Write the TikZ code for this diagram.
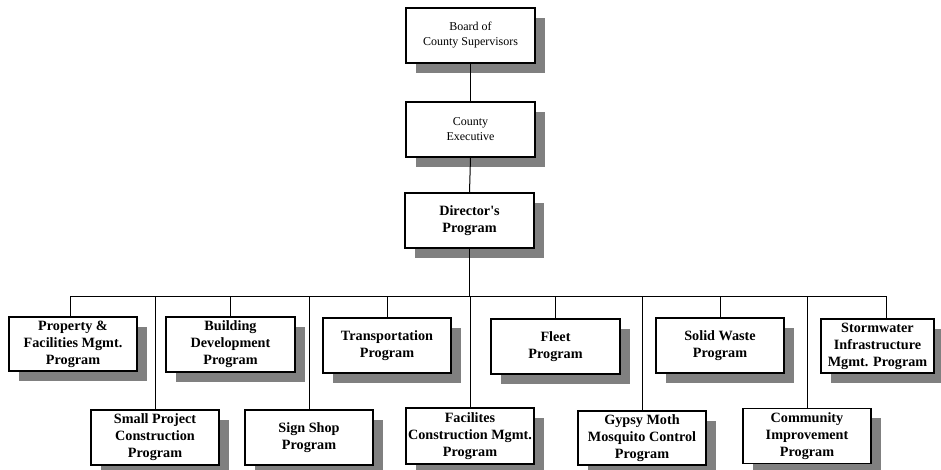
\documentclass[tikz,border=0pt]{standalone}
\usepackage{fontspec}
\setmainfont{Liberation Serif}
\usetikzlibrary{shadows}
\begin{document}
\begin{tikzpicture}[x=1pt,y=-1pt,
  unitbox/.style={draw=black, line width=1.2pt, fill=white, rectangle, inner sep=0pt,
    align=center, general shadow={fill=black!50, shadow xshift=9.5pt, shadow yshift=-9.5pt}},
  topbox/.style={unitbox, minimum width=129pt, minimum height=55pt, font=\fontsize{12}{15}\selectfont},
  progbox/.style={unitbox, minimum width=128pt, minimum height=55pt, font=\fontsize{14.2}{17}\selectfont\bfseries},
  link/.style={draw=black, line width=1pt}]
\useasboundingbox (0,0) rectangle (941,469);
\node[topbox] (board) at (470.5,35.5) {Board of\\County Supervisors};
\node[topbox] (exec) at (470.5,129.5) {County\\Executive};
\node[progbox, minimum width=129pt] (dir) at (469.5,220.5) {Director\textquotesingle s\\Program};
% row 1
\node[progbox, minimum height=54pt] (prop) at (73,344) {Property \&\\Facilities Mgmt.\\Program};
\node[progbox, minimum width=129pt] (build) at (230.5,344.5) {Building\\Development\\Program};
\node[progbox] (trans) at (387,345.5) {Transportation\\Program};
\node[progbox, minimum width=129pt] (fleet) at (555.5,346.5) {Fleet\\Program};
\node[progbox] (solid) at (720,345.5) {Solid Waste\\Program};
\node[progbox, minimum width=113pt, minimum height=54pt] (storm) at (877.5,346) {Stormwater\\Infrastructure\\Mgmt. Program};
% row 2
\node[progbox] (small) at (155,437.5) {Small Project\\Construction\\Program};
\node[progbox] (sign) at (309,437.5) {Sign Shop\\Program};
\node[progbox, minimum height=56pt] (facil) at (470,436) {Facilites\\Construction Mgmt.\\Program};
\node[progbox, minimum height=54pt] (gypsy) at (642,438) {Gypsy Moth\\Mosquito Control\\Program};
\node[progbox] (comm) at (807,436) {Community\\Improvement\\Program};
% connectors
\coordinate (busL) at (70,296);
\coordinate (busR) at (886,296);
\coordinate (busM) at (469.5,296);
\path[link] (board.south) -- (exec.north);
\path[link] (exec.south) -- (dir.north);
\path[link] (dir.south) -- (busM);
\path[link] (busL) -- (busR);
\path[link] (busL) -- (prop.north -| busL);
\path[link] (busR) -- (storm.north -| busR);
\path[link] (build.north) -- (build.north |- busL);
\path[link] (trans.north) -- (trans.north |- busL);
\path[link] (fleet.north) -- (fleet.north |- busL);
\path[link] (solid.north) -- (solid.north |- busL);
\path[link] (small.north) -- (small.north |- busL);
\path[link] (sign.north) -- (sign.north |- busL);
\path[link] (facil.north) -- (facil.north |- busL);
\path[link] (gypsy.north) -- (gypsy.north |- busL);
\path[link] (comm.north) -- (comm.north |- busL);
\end{tikzpicture}
\end{document}
